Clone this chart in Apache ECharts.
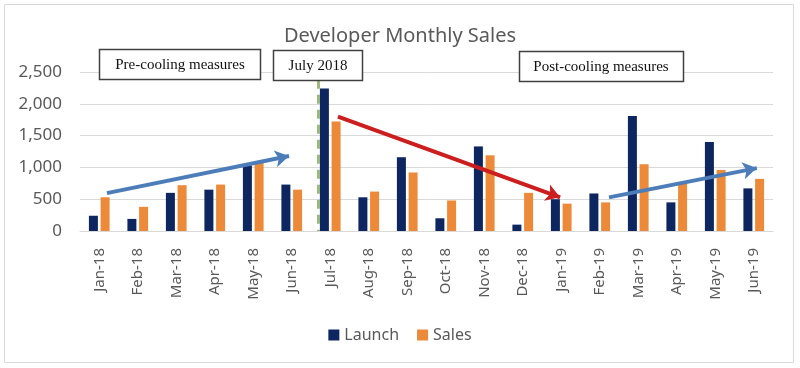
<!DOCTYPE html>
<html>
<head>
<meta charset="utf-8">
<script src="https://cdn.jsdelivr.net/npm/echarts@6/dist/echarts.min.js"></script>
<style>
html,body{margin:0;padding:0;background:#fff;}
#chart{width:800px;height:368px;}
</style>
</head>
<body>
<div id="chart"></div>
<script>
const months = ['Jan-18','Feb-18','Mar-18','Apr-18','May-18','Jun-18','Jul-18','Aug-18','Sep-18','Oct-18','Nov-18','Dec-18','Jan-19','Feb-19','Mar-19','Apr-19','May-19','Jun-19'];
const launch = [240,190,600,650,1030,730,2240,530,1160,200,1330,100,500,590,1810,450,1400,670];
const sales  = [530,380,720,730,1090,650,1720,620,920,480,1190,600,430,450,1050,740,960,820];
const yTicks = [0,500,1000,1500,2000,2500];

// annotation arrows in data coordinates [categoryIndex, value]
const arrowPre  = [[0.2,595],[4.93,1178]];
const arrowDrop = [[6.2,1800],[11.97,529]];
const arrowPost = [[13.24,529],[17.08,989]];
const july2018Line = [[5.68,2380],[5.68,0]];

const chart = echarts.init(document.getElementById('chart'));
const font = '"Noto Sans", "Open Sans", sans-serif';
function arrow(p, color){
  return [{coord:p[0], symbol:'none', lineStyle:{color:color,width:4,type:'solid'}},
          {coord:p[1], symbol:'arrow', symbolSize:[13,14]}];
}
chart.setOption({
  animation:false,
  backgroundColor:'#fff',
  title:{text:'Developer Monthly Sales', left:'center', top:21,
    textStyle:{fontFamily:font, fontSize:20, fontWeight:'normal', color:'#595959'}},
  legend:{data:['Launch','Sales'], bottom:20, left:'center', icon:'rect', itemWidth:11, itemHeight:11, itemGap:18,
    textStyle:{fontFamily:font, fontSize:16, color:'#595959'}},
  grid:{left:80, right:27, top:72, bottom:137, containLabel:false},
  xAxis:[{type:'category', data:months, axisTick:{show:false},
    axisLine:{lineStyle:{color:'#d9d9d9'}},
    axisLabel:{rotate:90, margin:17, fontFamily:font, fontSize:15, color:'#595959'}},
   {type:'value', min:-0.5, max:17.5, show:false}],
  yAxis:{type:'value', min:yTicks[0], max:yTicks[yTicks.length-1], interval:500,
    axisLine:{show:false}, axisTick:{show:false},
    splitLine:{lineStyle:{color:'#d9d9d9'}},
    axisLabel:{margin:18, fontFamily:font, fontSize:17, color:'#595959',
      formatter:v=>v.toLocaleString('en-US')}},
  graphic:[
    {type:'rect', shape:{x:4.5,y:4.5,width:789,height:358}, style:{fill:'none',stroke:'#d9d9d9',lineWidth:1}, silent:true},
    {type:'rect', shape:{x:99.5,y:49.5,width:161,height:30}, style:{fill:'#fff',stroke:'#404040',lineWidth:1.5}, z:100},
    {type:'text', x:180, y:65, style:{text:'Pre-cooling measures', font:'15px "Liberation Serif", serif', fill:'#111', align:'center', verticalAlign:'middle'}, z:101},
    {type:'rect', shape:{x:273.5,y:50.5,width:89,height:30}, style:{fill:'#fff',stroke:'#404040',lineWidth:1.5}, z:100},
    {type:'text', x:318, y:66, style:{text:'July 2018', font:'15px "Liberation Serif", serif', fill:'#111', align:'center', verticalAlign:'middle'}, z:101},
    {type:'rect', shape:{x:519.5,y:51.5,width:164,height:30}, style:{fill:'#fff',stroke:'#404040',lineWidth:1.5}, z:100},
    {type:'text', x:601, y:67, style:{text:'Post-cooling measures', font:'15px "Liberation Serif", serif', fill:'#111', align:'center', verticalAlign:'middle'}, z:101}
  ],
  series:[
    {name:'Launch', type:'bar', data:launch, barWidth:9, barGap:'30%', itemStyle:{color:'#0d2660'}},
    {name:'Sales', type:'bar', data:sales, barWidth:9, barGap:'30%', itemStyle:{color:'#ed8a3a'}},
    {name:'annot', type:'line', xAxisIndex:1, data:[], silent:true, z:5,
      markLine:{silent:true, animation:false, label:{show:false}, emphasis:{disabled:true},
        data:[
          [{coord:july2018Line[0], symbol:'none', lineStyle:{color:'#9cb97c',width:3,type:[9,6]}},
           {coord:july2018Line[1], symbol:'none'}],
          arrow(arrowPre,'#4d7db8'),
          arrow(arrowDrop,'#cc1e1e'),
          arrow(arrowPost,'#4d7db8')
        ]}}
  ]
});
</script>
</body>
</html>
